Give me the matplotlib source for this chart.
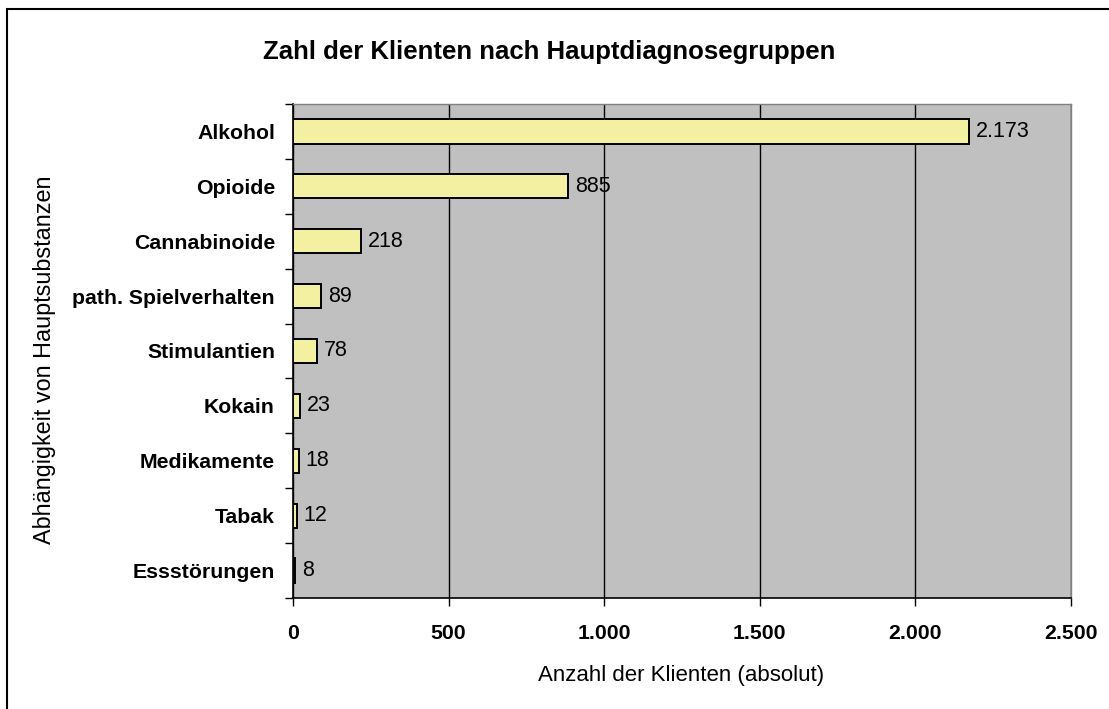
import matplotlib
matplotlib.use("Agg")
import matplotlib.pyplot as plt
from matplotlib.patches import Rectangle
from matplotlib.ticker import FixedLocator, FuncFormatter

categories = ["Alkohol", "Opioide", "Cannabinoide", "path. Spielverhalten",
              "Stimulantien", "Kokain", "Medikamente", "Tabak", "Essstörungen"]
values = [2173, 885, 218, 89, 78, 23, 18, 12, 8]
xticks = [0, 500, 1000, 1500, 2000, 2500]

plt.rcParams['font.family'] = ['Liberation Sans', 'DejaVu Sans']

W, H = 1109, 709
fig = plt.figure(figsize=(W / 100, H / 100), dpi=100)
ax = fig.add_axes([293/W, 1-598/H, (1071-293)/W, (598-104)/H])

def fmt(v):
    return f"{v:,.0f}".replace(",", ".")

n = len(categories)
ypos = list(range(n))
ax.barh(ypos, values, height=0.44, color="#F3F1A1", edgecolor="black", linewidth=1.4, zorder=3)
ax.set_ylim(n - 0.5, -0.5)
ax.set_xlim(0, 2500)
ax.set_facecolor("#C0C0C0")

for y, v in zip(ypos, values):
    ax.annotate(fmt(v), xy=(v, y), xytext=(5, 0), textcoords="offset points",
                va="center", ha="left", fontsize=15.5, zorder=4)

ax.xaxis.set_major_locator(FixedLocator(xticks))
ax.xaxis.set_major_formatter(FuncFormatter(lambda v, p: fmt(v)))
ax.grid(axis="x", color="black", linewidth=1, zorder=1)
ax.set_axisbelow(True)

ax.set_yticks(ypos)
ax.set_yticklabels(categories, fontweight="bold", fontsize=15.3)
ax.yaxis.set_minor_locator(FixedLocator([i - 0.5 for i in range(n + 1)]))
ax.tick_params(axis="y", which="major", length=0, pad=13)
ax.tick_params(axis="y", which="minor", length=6, direction="out", width=1)
ax.tick_params(axis="x", which="major", length=6, direction="out", width=1, pad=13, labelsize=15.3)
for lbl in ax.get_xticklabels():
    lbl.set_fontweight("bold")

for s in ["top", "right"]:
    ax.spines[s].set_color("#808080")
    ax.spines[s].set_linewidth(1)
for s in ["left", "bottom"]:
    ax.spines[s].set_color("black")
    ax.spines[s].set_linewidth(1.2)

fig.text(681.5/W, 1-675/H, "Anzahl der Klienten (absolut)", fontsize=16,
         ha="center", va="center")
fig.text(45/W, 1-360/H, "Abhängigkeit von Hauptsubstanzen", fontsize=16.8,
         ha="center", va="center", rotation=90)

fig.text(549/W, 1-52/H, "Zahl der Klienten nach Hauptdiagnosegruppen",
         ha="center", va="center", fontsize=18.5, fontweight="bold")

fig.patches.append(Rectangle((6.5/W, -0.1), 1.2, 1 - 8.5/H + 0.1,
                             transform=fig.transFigure, fill=False,
                             edgecolor="black", linewidth=1.5))

fig.savefig("out.png", dpi=100, facecolor="white")
